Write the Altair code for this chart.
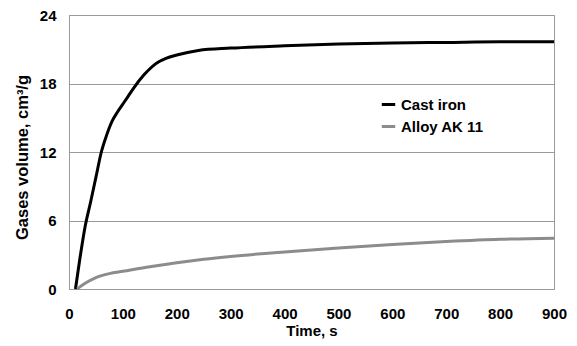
import altair as alt
import pandas as pd

cast_t = [12, 20, 30, 40, 50, 60, 70, 80, 90, 100, 110, 120, 140, 160, 180, 200, 240, 300, 400, 500, 600, 700, 800, 900]
cast_v = [0, 2.6, 5.5, 7.6, 9.8, 12.0, 13.5, 14.7, 15.5, 16.2, 16.9, 17.6, 18.8, 19.7, 20.2, 20.5, 20.9, 21.1, 21.3, 21.45, 21.55, 21.6, 21.65, 21.65]
alloy_t = [15, 30, 50, 75, 100, 150, 200, 250, 300, 400, 500, 600, 700, 800, 900]
alloy_v = [0, 0.5, 1.0, 1.35, 1.55, 1.95, 2.3, 2.6, 2.85, 3.25, 3.6, 3.9, 4.15, 4.35, 4.45]
series = ["Cast iron", "Alloy AK 11"]
x_ticks = [0, 100, 200, 300, 400, 500, 600, 700, 800, 900]
y_ticks = [0, 6, 12, 18, 24]

df = pd.concat([
    pd.DataFrame({"t": cast_t, "v": cast_v, "s": series[0]}),
    pd.DataFrame({"t": alloy_t, "v": alloy_v, "s": series[1]}),
])

FONT = "Liberation Sans"

chart = alt.Chart(df).mark_line(strokeWidth=3, interpolate="monotone").encode(
    x=alt.X("t:Q", scale=alt.Scale(domain=[0, 900], nice=False),
            axis=alt.Axis(values=x_ticks, title="Time, s", grid=False, ticks=False,
                          labelPadding=17, titlePadding=2, domainColor="#999999",
                          labelFlush=False)),
    y=alt.Y("v:Q", scale=alt.Scale(domain=[0, 24], nice=False),
            axis=alt.Axis(values=y_ticks, title="Gases volume, cm³/g", grid=True,
                          ticks=False, labelPadding=13, titlePadding=9,
                          titleFontSize=16.5, titleY=142,
                          domainColor="#999999", gridColor="#999999")),
    color=alt.Color("s:N", scale=alt.Scale(domain=series, range=["#000000", "#8c8c8c"]),
                    legend=alt.Legend(title=None, orient="none", legendX=311, legendY=81,
                                      symbolType="stroke", symbolStrokeWidth=3,
                                      symbolSize=180, labelFontSize=15,
                                      labelFont=FONT, labelFontWeight="bold",
                                      labelColor="#000000", rowPadding=5)),
    order=alt.Order("t:Q"),
).properties(
    width=485, height=274,
    padding={"left": 61, "top": 7, "right": 15, "bottom": 50},
    autosize=alt.AutoSizeParams(type="none"),
).configure_view(
    stroke="#999999", strokeWidth=1
).configure_axis(
    labelFont=FONT, titleFont=FONT, labelFontSize=15, titleFontSize=15,
    labelFontWeight="bold", titleFontWeight="bold", labelColor="#000000",
    titleColor="#000000", gridWidth=1
)

chart.save("out.html", embed_options={"renderer": "svg", "actions": False})
